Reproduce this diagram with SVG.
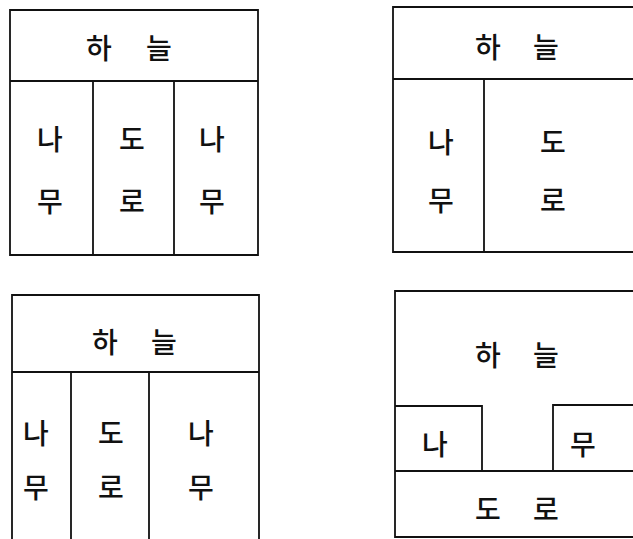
<svg xmlns="http://www.w3.org/2000/svg" width="633" height="539" viewBox="0 0 633 539">
<style>
.ln{fill:none;stroke:#111;stroke-width:1.8;stroke-linecap:square}
.t{font-family:"Noto Sans CJK KR","Noto Sans",sans-serif;font-size:28px;font-weight:500;fill:#111;text-anchor:middle;dominant-baseline:central}
</style>
<rect width="633" height="539" fill="#fff"/>
<g id="panel1">
<path class="ln" d="M10,10 H258 V255 H10 Z M10,81 H258 M93,81 V255 M174,81 V255"/>
<text class="t" x="99" y="47">하</text><text class="t" x="159" y="47">늘</text>
<text class="t" x="50" y="138">나</text><text class="t" x="50" y="200">무</text>
<text class="t" x="132" y="138">도</text><text class="t" x="132" y="200">로</text>
<text class="t" x="212" y="138">나</text><text class="t" x="212" y="200">무</text>
</g>
<g id="panel2">
<path class="ln" d="M633,7 H393 V252 H633 M393,79 H633 M484,79 V252"/>
<text class="t" x="488" y="46">하</text><text class="t" x="546" y="46">늘</text>
<text class="t" x="441" y="141">나</text><text class="t" x="441" y="199">무</text>
<text class="t" x="553" y="141">도</text><text class="t" x="553" y="199">로</text>
</g>
<g id="panel3">
<path class="ln" d="M12,540 V295 H259 V540 M12,372 H259 M71,372 V540 M149,372 V540"/>
<text class="t" x="105" y="341">하</text><text class="t" x="164" y="341">늘</text>
<text class="t" x="36" y="432">나</text><text class="t" x="36" y="486">무</text>
<text class="t" x="111" y="432">도</text><text class="t" x="111" y="486">로</text>
<text class="t" x="201" y="432">나</text><text class="t" x="201" y="486">무</text>
</g>
<g id="panel4">
<path class="ln" d="M633,291 H395 V537 H633 M395,406 H482 V471 M395,471 H633 M633,405 H553 V471"/>
<text class="t" x="488" y="354">하</text><text class="t" x="546" y="354">늘</text>
<text class="t" x="435" y="443">나</text><text class="t" x="583" y="443">무</text>
<text class="t" x="488" y="508">도</text><text class="t" x="546" y="508">로</text>
</g>
<g id="connectors"/>
</svg>
